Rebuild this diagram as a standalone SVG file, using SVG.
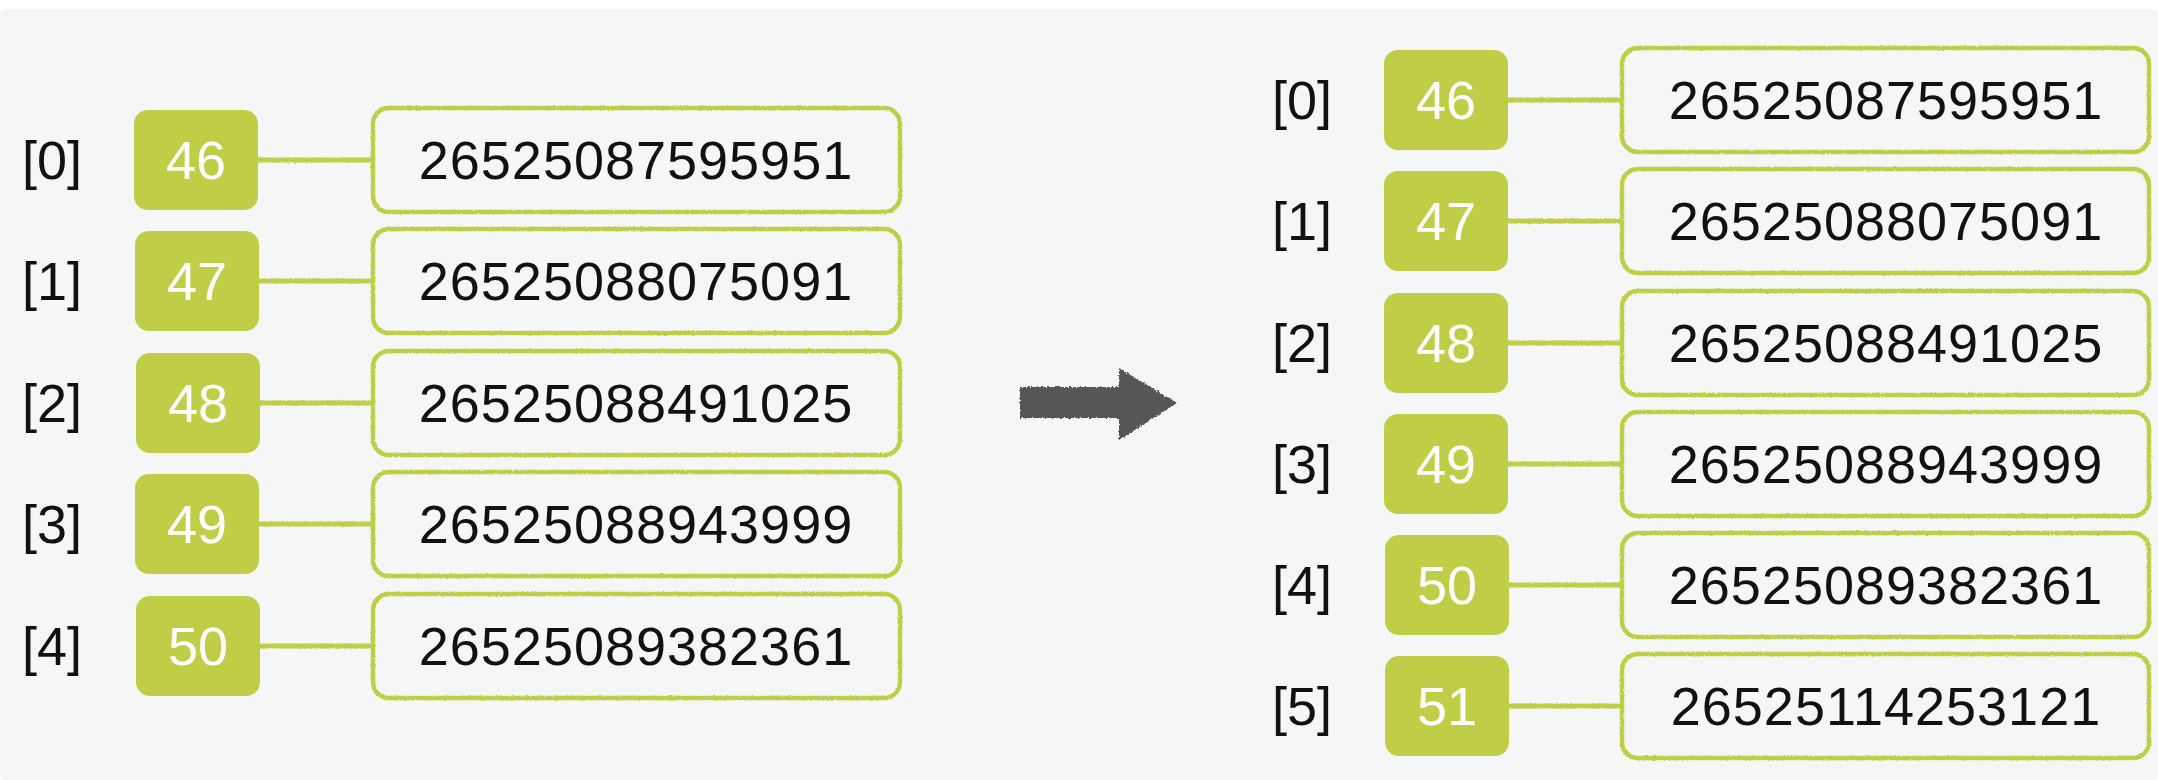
<svg xmlns="http://www.w3.org/2000/svg" width="2158" height="780" viewBox="0 0 2158 780">
<defs>
<filter id="rough" x="-5%" y="-5%" width="110%" height="110%">
<feTurbulence type="fractalNoise" baseFrequency="0.6" numOctaves="2" seed="3" result="n"/>
<feDisplacementMap in="SourceGraphic" in2="n" scale="2.5" xChannelSelector="R" yChannelSelector="G"/>
</filter>
<filter id="roughA" x="-10%" y="-10%" width="120%" height="120%">
<feTurbulence type="fractalNoise" baseFrequency="0.5" numOctaves="2" seed="7" result="n"/>
<feDisplacementMap in="SourceGraphic" in2="n" scale="4" xChannelSelector="R" yChannelSelector="G"/>
</filter>
</defs>
<style>
.key{fill:#c0ce47}
.val{fill:none;stroke:#c0ce47;stroke-width:4.5}
.ln{stroke:#c0ce47;stroke-width:5}
text{font-family:"Liberation Sans",Arial,sans-serif;font-size:54px;text-anchor:middle}
.lbl{fill:#111}
.kt{fill:#ffffff}
.vt{fill:#111;letter-spacing:1px}
</style>
<rect x="0" y="0" width="2158" height="780" fill="#ffffff"/>
<rect x="0" y="9" width="2158" height="771" rx="6" fill="#f5f6f6"/>
<g id="connectors" filter="url(#rough)">
<line class="ln" x1="257" y1="160" x2="373" y2="160"/>
<line class="ln" x1="257" y1="281" x2="373" y2="281"/>
<line class="ln" x1="257" y1="403" x2="373" y2="403"/>
<line class="ln" x1="257" y1="524" x2="373" y2="524"/>
<line class="ln" x1="257" y1="646" x2="373" y2="646"/>
<line class="ln" x1="1507" y1="100" x2="1623" y2="100"/>
<line class="ln" x1="1507" y1="221" x2="1623" y2="221"/>
<line class="ln" x1="1507" y1="343" x2="1623" y2="343"/>
<line class="ln" x1="1507" y1="464" x2="1623" y2="464"/>
<line class="ln" x1="1507" y1="585" x2="1623" y2="585"/>
<line class="ln" x1="1507" y1="706" x2="1623" y2="706"/>
</g>
<g id="arrow" filter="url(#roughA)">
<polygon points="1020,387 1119,387 1119,368 1177,403 1119,440 1119,418 1020,418" fill="#575757"/>
</g>
<g id="left-0"><text class="lbl" x="52" y="179">[0]</text><rect class="key" x="134" y="110" width="124" height="100" rx="14"/><text class="kt" x="196" y="179">46</text><rect class="val" x="373" y="108" width="527" height="104" rx="16" filter="url(#rough)"/><text class="vt" x="636" y="179">26525087595951</text></g>
<g id="left-1"><text class="lbl" x="52" y="300">[1]</text><rect class="key" x="135" y="231" width="124" height="100" rx="14"/><text class="kt" x="197" y="300">47</text><rect class="val" x="373" y="229" width="527" height="104" rx="16" filter="url(#rough)"/><text class="vt" x="636" y="300">26525088075091</text></g>
<g id="left-2"><text class="lbl" x="52" y="422">[2]</text><rect class="key" x="136" y="353" width="124" height="100" rx="14"/><text class="kt" x="198" y="422">48</text><rect class="val" x="373" y="351" width="527" height="104" rx="16" filter="url(#rough)"/><text class="vt" x="636" y="422">26525088491025</text></g>
<g id="left-3"><text class="lbl" x="52" y="543">[3]</text><rect class="key" x="135" y="474" width="124" height="100" rx="14"/><text class="kt" x="197" y="543">49</text><rect class="val" x="373" y="472" width="527" height="104" rx="16" filter="url(#rough)"/><text class="vt" x="636" y="543">26525088943999</text></g>
<g id="left-4"><text class="lbl" x="52" y="665">[4]</text><rect class="key" x="136" y="596" width="124" height="100" rx="14"/><text class="kt" x="198" y="665">50</text><rect class="val" x="373" y="594" width="527" height="104" rx="16" filter="url(#rough)"/><text class="vt" x="636" y="665">26525089382361</text></g>
<g id="right-0"><text class="lbl" x="1302" y="119">[0]</text><rect class="key" x="1384" y="50" width="124" height="100" rx="14"/><text class="kt" x="1446" y="119">46</text><rect class="val" x="1622" y="48" width="527" height="104" rx="16" filter="url(#rough)"/><text class="vt" x="1886" y="119">26525087595951</text></g>
<g id="right-1"><text class="lbl" x="1302" y="240">[1]</text><rect class="key" x="1384" y="171" width="124" height="100" rx="14"/><text class="kt" x="1446" y="240">47</text><rect class="val" x="1622" y="169" width="527" height="104" rx="16" filter="url(#rough)"/><text class="vt" x="1886" y="240">26525088075091</text></g>
<g id="right-2"><text class="lbl" x="1302" y="362">[2]</text><rect class="key" x="1384" y="293" width="124" height="100" rx="14"/><text class="kt" x="1446" y="362">48</text><rect class="val" x="1622" y="291" width="527" height="104" rx="16" filter="url(#rough)"/><text class="vt" x="1886" y="362">26525088491025</text></g>
<g id="right-3"><text class="lbl" x="1302" y="483">[3]</text><rect class="key" x="1384" y="414" width="124" height="100" rx="14"/><text class="kt" x="1446" y="483">49</text><rect class="val" x="1622" y="412" width="527" height="104" rx="16" filter="url(#rough)"/><text class="vt" x="1886" y="483">26525088943999</text></g>
<g id="right-4"><text class="lbl" x="1302" y="604">[4]</text><rect class="key" x="1385" y="535" width="124" height="100" rx="14"/><text class="kt" x="1447" y="604">50</text><rect class="val" x="1622" y="533" width="527" height="104" rx="16" filter="url(#rough)"/><text class="vt" x="1886" y="604">26525089382361</text></g>
<g id="right-5"><text class="lbl" x="1302" y="725">[5]</text><rect class="key" x="1385" y="656" width="124" height="100" rx="14"/><text class="kt" x="1447" y="725">51</text><rect class="val" x="1622" y="654" width="527" height="104" rx="16" filter="url(#rough)"/><text class="vt" x="1886" y="725">26525114253121</text></g>
</svg>
